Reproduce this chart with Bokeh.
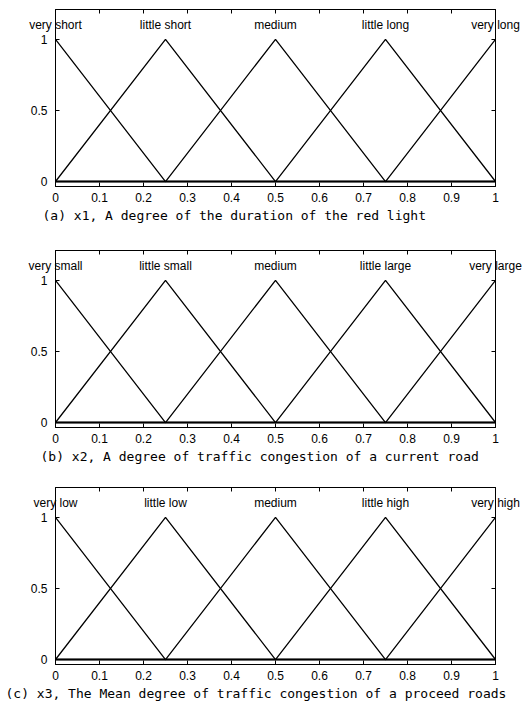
from bokeh.plotting import figure
from bokeh.layouts import column
from bokeh.models import LinearAxis, FixedTicker, Range1d, Title
from bokeh.embed import file_html
from bokeh.resources import INLINE

# ---- data ----
x_points = [0.0, 0.25, 0.5, 0.75, 1.0]
mf_1 = [1, 0, 0, 0, 0]
mf_2 = [0, 1, 0, 0, 0]
mf_3 = [0, 0, 1, 0, 0]
mf_4 = [0, 0, 0, 1, 0]
mf_5 = [0, 0, 0, 0, 1]
mfs = [mf_1, mf_2, mf_3, mf_4, mf_5]

label_x = [0.0, 0.25, 0.5, 0.75, 1.0]
labels_a = ["very short", "little short", "medium", "little long", "very long"]
labels_b = ["very small", "little small", "medium", "little large", "very large"]
labels_c = ["very low", "little low", "medium", "little high", "very high"]

caption_a = "(a) x1, A degree of the duration of the red light"
caption_b = "(b) x2, A degree of traffic congestion of a current road"
caption_c = "(c) x3, The Mean degree of traffic congestion of a proceed roads"

x_ticks = [0, 0.1, 0.2, 0.3, 0.4, 0.5, 0.6, 0.7, 0.8, 0.9, 1]
y_ticks = [0, 0.5, 1]
y_labels = {0: "0", 0.5: "0.5", 1: "1"}

TICK_FONT = "Liberation Sans"


def style_axis(ax):
    ax.axis_line_color = "black"
    ax.major_tick_line_color = "black"
    ax.major_tick_in = 4
    ax.major_tick_out = 0
    ax.minor_tick_line_color = None
    ax.major_label_text_font = TICK_FONT
    ax.major_label_text_font_size = "12px"
    ax.major_label_text_color = "black"


def make_panel(labels, caption, top, bottom, cap_offset):
    p = figure(width=528, height=top + 177 + bottom,
               x_range=Range1d(0, 1), y_range=Range1d(-0.035, 1.21),
               output_backend="svg", toolbar_location=None,
               min_border_left=55, min_border_right=33,
               min_border_top=top, min_border_bottom=bottom)
    p.grid.visible = False
    p.outline_line_color = "black"
    p.outline_line_width = 1
    p.background_fill_color = "white"
    p.border_fill_color = "white"

    p.xaxis.ticker = FixedTicker(ticks=x_ticks)
    p.yaxis.ticker = FixedTicker(ticks=y_ticks)
    p.yaxis.major_label_overrides = y_labels
    for ax in p.xaxis:
        style_axis(ax)
        ax.major_label_standoff = 6
    for ax in p.yaxis:
        style_axis(ax)
        ax.major_label_standoff = 8

    # top axis: membership-function names as labels, 0.1-step ticks as minor ticks
    top_ax = LinearAxis(ticker=FixedTicker(ticks=label_x, minor_ticks=x_ticks))
    style_axis(top_ax)
    top_ax.major_tick_line_color = None
    top_ax.minor_tick_line_color = "black"
    top_ax.minor_tick_in = 4
    top_ax.minor_tick_out = 0
    top_ax.major_label_overrides = {x: t for x, t in zip(label_x, labels)}
    top_ax.major_label_standoff = -22
    p.add_layout(top_ax, "above")

    # right axis: ticks only
    right_ax = LinearAxis(ticker=FixedTicker(ticks=[], minor_ticks=y_ticks))
    style_axis(right_ax)
    right_ax.minor_tick_line_color = "black"
    right_ax.minor_tick_in = 4
    right_ax.minor_tick_out = 0
    p.add_layout(right_ax, "right")

    for mf in mfs:
        p.line(x_points, mf, line_color="black", line_width=1.3)

    t = Title(text=caption, align="left", offset=cap_offset,
              text_font="DejaVu Sans Mono", text_font_size="13px",
              text_font_style="normal", text_color="black", standoff=2)
    p.add_layout(t, "below")
    return p


p1 = make_panel(labels_a, caption_a, 9, 48, -13)
p2 = make_panel(labels_b, caption_b, 16, 46, -15)
p3 = make_panel(labels_c, caption_c, 14, 45, -50)

layout = column(p1, p2, p3, spacing=0)
open("out.html", "w").write(file_html(layout, INLINE))
